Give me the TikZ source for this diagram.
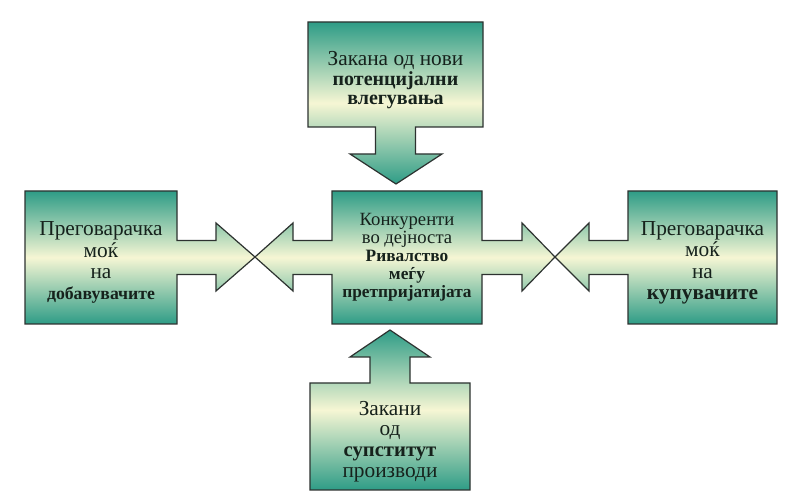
\documentclass[tikz,border=0pt]{standalone}
\usepackage{fontspec}
\setmainfont{Liberation Serif}
\usetikzlibrary{calc, backgrounds}
\definecolor{tealedge}{RGB}{46,156,134}
\definecolor{creammid}{RGB}{246,246,212}
\definecolor{outline}{RGB}{45,50,48}
\definecolor{inktext}{RGB}{22,34,28}

\begin{document}
\begin{tikzpicture}[x=0.75pt, y=-0.75pt,
    force/.style={rectangle, inner sep=0pt, outer sep=0pt, align=center, text=inktext},
    forceshape/.style={draw=outline, line width=0.9pt, top color=tealedge, bottom color=tealedge, middle color=creammid}]
    \useasboundingbox (0,0) rectangle (786,498);

    % Five forces
    \node[force, font=\fontsize{16}{14.5}\selectfont, minimum width=131.25pt, minimum height=78.75pt] (T) at (395.5,74.5)
        {\rule{0pt}{19pt}Закана од нови\\
         \fontsize{15}{14.5}\selectfont\bfseries потенцијални\\
         \fontsize{15}{14.5}\selectfont\bfseries влегувања};
    \node[force, font=\fontsize{16}{16}\selectfont, minimum width=114pt, minimum height=99.75pt] (L) at (101,257.5)
        {\rule{0pt}{18.5pt}Преговарачка\\ моќ\\ на\\
         \fontsize{13.3}{16}\selectfont\bfseries добавувачите};
    \node[force, font=\fontsize{14}{13.5}\selectfont, minimum width=112.5pt, minimum height=99.75pt] (C) at (407,257.5)
        {Конкуренти\\ во дејноста\\
         \fontsize{13}{13.5}\selectfont\bfseries Ривалство\\
         \fontsize{13}{13.5}\selectfont\bfseries меѓу\\
         \fontsize{13}{13.5}\selectfont\bfseries претпријатијата};
    \node[force, font=\fontsize{16}{16}\selectfont, minimum width=111.75pt, minimum height=99.75pt] (R) at (702.5,257.5)
        {\rule{0pt}{18.5pt}Преговарачка\\ моќ\\ на\\ \bfseries купувачите};
    \node[force, font=\fontsize{16}{15.5}\selectfont, minimum width=120pt, minimum height=80.25pt] (B) at (390,436.5)
        {\rule{0pt}{18pt}Закани\\ од\\
         \fontsize{15.5}{15.5}\selectfont\bfseries супститут\\ производи};

    % Arrow tips
    \coordinate (tLC) at (255,257);
    \coordinate (tCR) at (555,257);
    \coordinate (tTC) at (396,184);
    \coordinate (tBC) at (390,330);

    \begin{scope}[on background layer]
        \fill[white] (0,0) rectangle (786,498);
        % Left box with its arrow
        \path[forceshape] (L.north west) -- (L.north east) -- ($(L.east)+(0,-17)$)
            -| ($(tLC)+(-39,-34)$) -- (tLC) -- ($(tLC)+(-39,34)$)
            |- ($(L.east)+(0,17)$) -- (L.south east) -- (L.south west) -- cycle;
        % Centre box with its two arrows
        \path[forceshape] (C.north west) -- (C.north east) -- ($(C.east)+(0,-17)$)
            -| ($(tCR)+(-33,-34)$) -- (tCR) -- ($(tCR)+(-33,34)$)
            |- ($(C.east)+(0,17)$) -- (C.south east) -- (C.south west)
            -- ($(C.west)+(0,17)$) -| ($(tLC)+(38,34)$) -- (tLC)
            -- ($(tLC)+(38,-34)$) |- ($(C.west)+(0,-17)$) -- cycle;
        % Right box with its arrow
        \path[forceshape] (R.north east) -- (R.north west) -- ($(R.west)+(0,-17)$)
            -| ($(tCR)+(34,-34)$) -- (tCR) -- ($(tCR)+(34,34)$)
            |- ($(R.west)+(0,17)$) -- (R.south west) -- (R.south east) -- cycle;
        % Top box with its arrow
        \path[forceshape] (T.north west) -- (T.north east) -- (T.south east)
            -- ($(T.south)+(20,0)$) |- ($(tTC)+(46,-30)$) -- (tTC)
            -- ($(tTC)+(-46,-30)$) -| ($(T.south)+(-20,0)$) -- (T.south west) -- cycle;
        % Bottom box with its arrow
        \path[forceshape] (B.south west) -- (B.north west) -- ($(B.north)+(-20,0)$)
            |- ($(tBC)+(-40,27)$) -- (tBC) -- ($(tBC)+(40,27)$)
            -| ($(B.north)+(20,0)$) -- (B.north east) -- (B.south east) -- cycle;
    \end{scope}
\end{tikzpicture}
\end{document}
